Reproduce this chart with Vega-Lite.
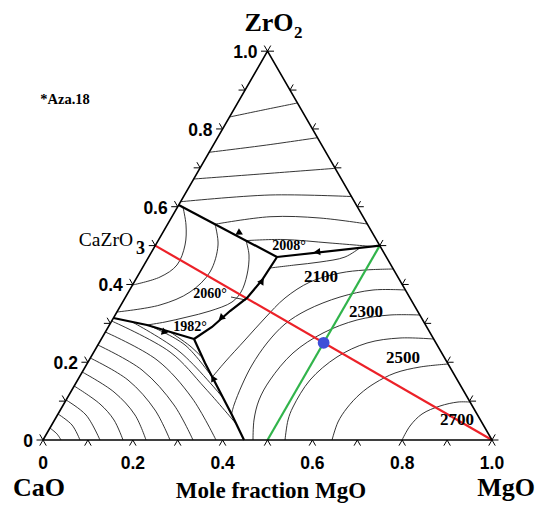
{
  "$schema": "https://vega.github.io/schema/vega-lite/v6.json",
  "width": 536,
  "height": 507,
  "autosize": "none",
  "padding": 0,
  "background": "white",
  "config": {"view": {"stroke": null}},
  "datasets": {
    "tri": [
      {"o": 0, "x": 0, "y": 0}, {"o": 1, "x": 1, "y": 0}, {"o": 2, "x": 0.5, "y": 0.866}, {"o": 3, "x": 0, "y": 0}
    ],
    "bnd": [
      {"g": "B1", "o": 0, "x": 0.3022, "y": 0.5234}, {"g": "B1", "o": 1, "x": 0.5212, "y": 0.4076},
      {"g": "B2", "o": 0, "x": 0.5212, "y": 0.4076}, {"g": "B2", "o": 1, "x": 0.75, "y": 0.433},
      {"g": "B3", "o": 0, "x": 0.5212, "y": 0.4076}, {"g": "B3", "o": 1, "x": 0.4878, "y": 0.3563}, {"g": "B3", "o": 2, "x": 0.4543, "y": 0.3163}, {"g": "B3", "o": 3, "x": 0.4165, "y": 0.2873}, {"g": "B3", "o": 4, "x": 0.3764, "y": 0.2517}, {"g": "B3", "o": 5, "x": 0.3363, "y": 0.2249},
      {"g": "B4", "o": 0, "x": 0.1569, "y": 0.2717}, {"g": "B4", "o": 1, "x": 0.2316, "y": 0.2561}, {"g": "B4", "o": 2, "x": 0.3363, "y": 0.2249},
      {"g": "B5", "o": 0, "x": 0.3363, "y": 0.2249}, {"g": "B5", "o": 1, "x": 0.3608, "y": 0.1715}, {"g": "B5", "o": 2, "x": 0.4209, "y": 0.0557}, {"g": "B5", "o": 3, "x": 0.4477, "y": 0}
    ],
    "iso": [
      {"g": "Z1", "o": 0, "x": 0.4153, "y": 0.7194}, {"g": "Z1", "o": 1, "x": 0.49, "y": 0.735}, {"g": "Z1", "o": 2, "x": 0.5666, "y": 0.7506},
      {"g": "Z2", "o": 0, "x": 0.37, "y": 0.6408}, {"g": "Z2", "o": 1, "x": 0.4982, "y": 0.657}, {"g": "Z2", "o": 2, "x": 0.6113, "y": 0.6733},
      {"g": "Z3", "o": 0, "x": 0.3356, "y": 0.5813}, {"g": "Z3", "o": 1, "x": 0.5056, "y": 0.594}, {"g": "Z3", "o": 2, "x": 0.6506, "y": 0.6051},
      {"g": "Z4", "o": 0, "x": 0.3064, "y": 0.5307}, {"g": "Z4", "o": 1, "x": 0.5056, "y": 0.5457}, {"g": "Z4", "o": 2, "x": 0.6869, "y": 0.5423},
      {"g": "Z5", "o": 0, "x": 0.3831, "y": 0.4806}, {"g": "Z5", "o": 1, "x": 0.5056, "y": 0.4973}, {"g": "Z5", "o": 2, "x": 0.6169, "y": 0.4944}, {"g": "Z5", "o": 3, "x": 0.7222, "y": 0.4811},
      {"g": "Z6", "o": 0, "x": 0.4521, "y": 0.4441}, {"g": "Z6", "o": 1, "x": 0.5345, "y": 0.4466}, {"g": "Z6", "o": 2, "x": 0.6392, "y": 0.4388}, {"g": "Z6", "o": 3, "x": 0.7327, "y": 0.4311},
      {"g": "A", "o": 0, "x": 0.3118, "y": 0.5183}, {"g": "A", "o": 1, "x": 0.3185, "y": 0.4788}, {"g": "A", "o": 2, "x": 0.3163, "y": 0.4343}, {"g": "A", "o": 3, "x": 0.2984, "y": 0.3898}, {"g": "A", "o": 4, "x": 0.2606, "y": 0.363}, {"g": "A", "o": 5, "x": 0.1993, "y": 0.3452},
      {"g": "B", "o": 0, "x": 0.3831, "y": 0.4806}, {"g": "B", "o": 1, "x": 0.3898, "y": 0.4343}, {"g": "B", "o": 2, "x": 0.3719, "y": 0.3742}, {"g": "B", "o": 3, "x": 0.3274, "y": 0.3296}, {"g": "B", "o": 4, "x": 0.2606, "y": 0.3007}, {"g": "B", "o": 5, "x": 0.1646, "y": 0.2851},
      {"g": "C", "o": 0, "x": 0.4521, "y": 0.4441}, {"g": "C", "o": 1, "x": 0.4588, "y": 0.412}, {"g": "C", "o": 2, "x": 0.4543, "y": 0.3675}, {"g": "C", "o": 3, "x": 0.441, "y": 0.3296}, {"g": "C", "o": 4, "x": 0.4209, "y": 0.3073}, {"g": "C", "o": 5, "x": 0.3719, "y": 0.2873}, {"g": "C", "o": 6, "x": 0.3207, "y": 0.2739}, {"g": "C", "o": 7, "x": 0.2717, "y": 0.2628}, {"g": "C", "o": 8, "x": 0.2316, "y": 0.2561},
      {"g": "L", "o": 0, "x": 0.4187, "y": 0.3185}, {"g": "L", "o": 1, "x": 0.4521, "y": 0.3118},
      {"g": "eta", "o": 0, "x": 0.5051, "y": 0.3831}, {"g": "eta", "o": 1, "x": 0.5612, "y": 0.3898}, {"g": "eta", "o": 2, "x": 0.6169, "y": 0.3964}, {"g": "eta", "o": 3, "x": 0.6726, "y": 0.4076}, {"g": "eta", "o": 4, "x": 0.706, "y": 0.4281},
      {"g": "zeta", "o": 0, "x": 0.7801, "y": 0.3809}, {"g": "zeta", "o": 1, "x": 0.7172, "y": 0.3786}, {"g": "zeta", "o": 2, "x": 0.6615, "y": 0.3719}, {"g": "zeta", "o": 3, "x": 0.5947, "y": 0.3519}, {"g": "zeta", "o": 4, "x": 0.539, "y": 0.3163}, {"g": "zeta", "o": 5, "x": 0.4944, "y": 0.2717}, {"g": "zeta", "o": 6, "x": 0.4499, "y": 0.2227}, {"g": "zeta", "o": 7, "x": 0.4053, "y": 0.1737}, {"g": "zeta", "o": 8, "x": 0.377, "y": 0.1403},
      {"g": "eps", "o": 0, "x": 0.8071, "y": 0.3341}, {"g": "eps", "o": 1, "x": 0.735, "y": 0.3341}, {"g": "eps", "o": 2, "x": 0.6615, "y": 0.3185}, {"g": "eps", "o": 3, "x": 0.588, "y": 0.2895}, {"g": "eps", "o": 4, "x": 0.539, "y": 0.2584}, {"g": "eps", "o": 5, "x": 0.4989, "y": 0.216}, {"g": "eps", "o": 6, "x": 0.4655, "y": 0.167}, {"g": "eps", "o": 7, "x": 0.4432, "y": 0.1225}, {"g": "eps", "o": 8, "x": 0.4254, "y": 0.078}, {"g": "eps", "o": 9, "x": 0.4198, "y": 0.0579},
      {"g": "delta", "o": 0, "x": 0.8393, "y": 0.2784}, {"g": "delta", "o": 1, "x": 0.7728, "y": 0.2784}, {"g": "delta", "o": 2, "x": 0.6993, "y": 0.2673}, {"g": "delta", "o": 3, "x": 0.6236, "y": 0.2383}, {"g": "delta", "o": 4, "x": 0.5568, "y": 0.1938}, {"g": "delta", "o": 5, "x": 0.5056, "y": 0.1336}, {"g": "delta", "o": 6, "x": 0.4811, "y": 0.0891}, {"g": "delta", "o": 7, "x": 0.4699, "y": 0.0445}, {"g": "delta", "o": 8, "x": 0.4677, "y": 0},
      {"g": "gamma", "o": 0, "x": 0.8701, "y": 0.2249}, {"g": "gamma", "o": 1, "x": 0.7951, "y": 0.2272}, {"g": "gamma", "o": 2, "x": 0.7216, "y": 0.216}, {"g": "gamma", "o": 3, "x": 0.6548, "y": 0.1849}, {"g": "gamma", "o": 4, "x": 0.5947, "y": 0.1336}, {"g": "gamma", "o": 5, "x": 0.5568, "y": 0.0735}, {"g": "gamma", "o": 6, "x": 0.5457, "y": 0.0445}, {"g": "gamma", "o": 7, "x": 0.539, "y": 0},
      {"g": "beta", "o": 0, "x": 0.9023, "y": 0.1693}, {"g": "beta", "o": 1, "x": 0.8397, "y": 0.1626}, {"g": "beta", "o": 2, "x": 0.784, "y": 0.1492}, {"g": "beta", "o": 3, "x": 0.7394, "y": 0.1269}, {"g": "beta", "o": 4, "x": 0.706, "y": 0.1024}, {"g": "beta", "o": 5, "x": 0.6771, "y": 0.0713}, {"g": "beta", "o": 6, "x": 0.657, "y": 0.0401}, {"g": "beta", "o": 7, "x": 0.6437, "y": 0},
      {"g": "alpha", "o": 0, "x": 0.9511, "y": 0.0846}, {"g": "alpha", "o": 1, "x": 0.9243, "y": 0.0846}, {"g": "alpha", "o": 2, "x": 0.8842, "y": 0.0757}, {"g": "alpha", "o": 3, "x": 0.8441, "y": 0.0579}, {"g": "alpha", "o": 4, "x": 0.8174, "y": 0.0312}, {"g": "alpha", "o": 5, "x": 0.7996, "y": 0},
      {"g": "k1", "o": 0, "x": 0.0154, "y": 0.0267}, {"g": "k1", "o": 1, "x": 0.0312, "y": 0.0134}, {"g": "k1", "o": 2, "x": 0.0401, "y": 0},
      {"g": "k2", "o": 0, "x": 0.0334, "y": 0.0579}, {"g": "k2", "o": 1, "x": 0.0646, "y": 0.0334}, {"g": "k2", "o": 2, "x": 0.0824, "y": 0},
      {"g": "k3", "o": 0, "x": 0.0514, "y": 0.0891}, {"g": "k3", "o": 1, "x": 0.0958, "y": 0.0557}, {"g": "k3", "o": 2, "x": 0.1269, "y": 0},
      {"g": "k4", "o": 0, "x": 0.0694, "y": 0.1203}, {"g": "k4", "o": 1, "x": 0.1269, "y": 0.0802}, {"g": "k4", "o": 2, "x": 0.1581, "y": 0.0445}, {"g": "k4", "o": 3, "x": 0.1782, "y": 0},
      {"g": "k5", "o": 0, "x": 0.0874, "y": 0.1514}, {"g": "k5", "o": 1, "x": 0.1581, "y": 0.1069}, {"g": "k5", "o": 2, "x": 0.2049, "y": 0.0557}, {"g": "k5", "o": 3, "x": 0.2294, "y": 0},
      {"g": "k6", "o": 0, "x": 0.1054, "y": 0.1826}, {"g": "k6", "o": 1, "x": 0.1893, "y": 0.1336}, {"g": "k6", "o": 2, "x": 0.2494, "y": 0.0668}, {"g": "k6", "o": 3, "x": 0.2829, "y": 0},
      {"g": "k7", "o": 0, "x": 0.1222, "y": 0.2116}, {"g": "k7", "o": 1, "x": 0.2205, "y": 0.1559}, {"g": "k7", "o": 2, "x": 0.2918, "y": 0.078}, {"g": "k7", "o": 3, "x": 0.3341, "y": 0},
      {"g": "k8", "o": 0, "x": 0.1389, "y": 0.2405}, {"g": "k8", "o": 1, "x": 0.2539, "y": 0.1782}, {"g": "k8", "o": 2, "x": 0.3319, "y": 0.0935}, {"g": "k8", "o": 3, "x": 0.3853, "y": 0},
      {"g": "k9", "o": 0, "x": 0.153, "y": 0.265}, {"g": "k9", "o": 1, "x": 0.2829, "y": 0.196}, {"g": "k9", "o": 2, "x": 0.3608, "y": 0.1158}, {"g": "k9", "o": 3, "x": 0.4306, "y": 0.0356},
      {"g": "k10", "o": 0, "x": 0.1982, "y": 0.2631}, {"g": "k10", "o": 1, "x": 0.3051, "y": 0.196}, {"g": "k10", "o": 2, "x": 0.3993, "y": 0.0958},
      {"g": "k11", "o": 0, "x": 0.2383, "y": 0.2541}, {"g": "k11", "o": 1, "x": 0.3163, "y": 0.2116}, {"g": "k11", "o": 2, "x": 0.3781, "y": 0.1381},
      {"g": "k12", "o": 0, "x": 0.2829, "y": 0.2408}, {"g": "k12", "o": 1, "x": 0.3274, "y": 0.2094}, {"g": "k12", "o": 2, "x": 0.3557, "y": 0.1826}
    ],
    "joins": [
      {"j": "CaZrO3-MgO", "o": 0, "x": 0.25, "y": 0.433}, {"j": "CaZrO3-MgO", "o": 1, "x": 1, "y": 0},
      {"j": "MgO 0.5", "o": 0, "x": 0.5, "y": 0}, {"j": "MgO 0.5", "o": 1, "x": 0.75, "y": 0.433}
    ],
    "pt": [{"x": 0.625, "y": 0.2165}],
    "arrows": [
      {"x": 0.4388, "y": 0.461, "a": 28}, {"x": 0.6103, "y": 0.4187, "a": 174}, {"x": 0.4878, "y": 0.3541, "a": 303},
      {"x": 0.3964, "y": 0.2717, "a": 138}, {"x": 0.2717, "y": 0.2405, "a": 17}, {"x": 0.3786, "y": 0.1381, "a": 243}
    ],
    "tickB": [
      {"x": 0, "y": 0}, {"x": 0.1, "y": 0}, {"x": 0.2, "y": 0}, {"x": 0.3, "y": 0}, {"x": 0.4, "y": 0}, {"x": 0.5, "y": 0},
      {"x": 0.6, "y": 0}, {"x": 0.7, "y": 0}, {"x": 0.8, "y": 0}, {"x": 0.9, "y": 0}, {"x": 1, "y": 0}
    ],
    "tickL": [
      {"x": 0, "y": 0}, {"x": 0.05, "y": 0.0866}, {"x": 0.1, "y": 0.1732}, {"x": 0.15, "y": 0.2598}, {"x": 0.2, "y": 0.3464}, {"x": 0.25, "y": 0.433},
      {"x": 0.3, "y": 0.5196}, {"x": 0.35, "y": 0.6062}, {"x": 0.4, "y": 0.6928}, {"x": 0.45, "y": 0.7794}, {"x": 0.5, "y": 0.866}
    ],
    "tickR": [
      {"x": 1, "y": 0}, {"x": 0.95, "y": 0.0866}, {"x": 0.9, "y": 0.1732}, {"x": 0.85, "y": 0.2598}, {"x": 0.8, "y": 0.3464}, {"x": 0.75, "y": 0.433},
      {"x": 0.7, "y": 0.5196}, {"x": 0.65, "y": 0.6062}, {"x": 0.6, "y": 0.6928}, {"x": 0.55, "y": 0.7794}, {"x": 0.5, "y": 0.866}
    ],
    "labB": [
      {"t": "0", "x": 0, "y": 0}, {"t": "0.2", "x": 0.2, "y": 0}, {"t": "0.4", "x": 0.4, "y": 0},
      {"t": "0.6", "x": 0.6, "y": 0}, {"t": "0.8", "x": 0.8, "y": 0}, {"t": "1.0", "x": 1, "y": 0}
    ],
    "labL": [
      {"t": "0", "x": 0, "y": 0}, {"t": "0.2", "x": 0.1, "y": 0.1732}, {"t": "0.4", "x": 0.2, "y": 0.3464},
      {"t": "0.6", "x": 0.3, "y": 0.5196}, {"t": "0.8", "x": 0.4, "y": 0.6928}, {"t": "1.0", "x": 0.5, "y": 0.866}
    ],
    "corner": [
      {"t": "CaO", "x": -0.0089, "y": -0.1069}, {"t": "MgO", "x": 1.0312, "y": -0.1069}, {"t": "ZrO", "x": 0.5033, "y": 0.9287}
    ],
    "sub": [
      {"t": "2", "x": 0.559, "y": 0.9065}
    ],
    "cz": [{"t": "CaZrO", "x": 0.2004, "y": 0.4454}],
    "czsub": [{"t": "3", "x": 0.2071, "y": 0.4254}],
    "axt": [{"t": "Mole fraction MgO", "x": 0.5078, "y": -0.1136}],
    "note": [{"t": "*Aza.18", "x": 0.049, "y": 0.7572}],
    "tsmall": [
      {"t": "2008°", "x": 0.5479, "y": 0.4321}, {"t": "2060°", "x": 0.3719, "y": 0.3252}, {"t": "1982°", "x": 0.3274, "y": 0.2517}
    ],
    "tbig": [
      {"t": "2100", "x": 0.6192, "y": 0.363}, {"t": "2300", "x": 0.7194, "y": 0.2851}, {"t": "2500", "x": 0.8018, "y": 0.1826}, {"t": "2700", "x": 0.9221, "y": 0.0445}
    ]
  },
  "encoding": {
    "x": {"field": "x", "type": "quantitative", "scale": {"domain": [-0.0958, 1.098], "nice": false, "zero": false}, "axis": null},
    "y": {"field": "y", "type": "quantitative", "scale": {"domain": [-0.1492, 0.98], "nice": false, "zero": false}, "axis": null}
  },
  "layer": [
    {
      "data": {"name": "iso"},
      "mark": {"type": "line", "stroke": "#1e1e1e", "strokeWidth": 0.9, "interpolate": "catmull-rom"},
      "encoding": {"detail": {"field": "g"}, "order": {"field": "o", "type": "quantitative"}}
    },
    {
      "data": {"name": "joins"},
      "mark": {"type": "line", "strokeWidth": 2.2},
      "encoding": {
        "detail": {"field": "j"},
        "order": {"field": "o", "type": "quantitative"},
        "color": {"field": "j", "type": "nominal", "scale": {"domain": ["CaZrO3-MgO", "MgO 0.5"], "range": ["#ec2128", "#31b44b"]}, "legend": null}
      }
    },
    {
      "data": {"name": "bnd"},
      "mark": {"type": "line", "stroke": "black", "strokeWidth": 2.2},
      "encoding": {"detail": {"field": "g"}, "order": {"field": "o", "type": "quantitative"}}
    },
    {
      "data": {"name": "tri"},
      "mark": {"type": "line", "stroke": "black", "strokeWidth": 1.6},
      "encoding": {"order": {"field": "o", "type": "quantitative"}}
    },
    {
      "data": {"name": "arrows"},
      "mark": {"type": "point", "shape": "triangle-right", "filled": true, "color": "black", "size": 55, "opacity": 1},
      "encoding": {"angle": {"field": "a", "type": "quantitative", "scale": null}}
    },
    {
      "data": {"name": "pt"},
      "mark": {"type": "circle", "color": "#3f4fd8", "size": 140, "opacity": 1}
    },
    {
      "data": {"name": "tickB"},
      "mark": {"type": "point", "shape": "M0,0L-0.5,0.866M0,0L0.5,0.866", "filled": false, "color": "black", "strokeWidth": 1, "size": 169, "opacity": 1}
    },
    {
      "data": {"name": "tickL"},
      "mark": {"type": "point", "shape": "M0,0L-1,0M0,0L-0.5,-0.866", "filled": false, "color": "black", "strokeWidth": 1, "size": 169, "opacity": 1}
    },
    {
      "data": {"name": "tickR"},
      "mark": {"type": "point", "shape": "M0,0L1,0M0,0L0.5,-0.866", "filled": false, "color": "black", "strokeWidth": 1, "size": 169, "opacity": 1}
    },
    {
      "data": {"name": "labB"},
      "mark": {"type": "text", "font": "Liberation Sans", "fontWeight": "bold", "fontSize": 17.5, "dy": 24, "align": "center", "baseline": "middle"},
      "encoding": {"text": {"field": "t"}}
    },
    {
      "data": {"name": "labL"},
      "mark": {"type": "text", "font": "Liberation Sans", "fontWeight": "bold", "fontSize": 17.5, "dx": -10, "dy": 2, "align": "right", "baseline": "middle"},
      "encoding": {"text": {"field": "t"}}
    },
    {
      "data": {"name": "corner"},
      "mark": {"type": "text", "font": "Liberation Serif", "fontWeight": "bold", "fontSize": 26, "align": "center", "baseline": "middle"},
      "encoding": {"text": {"field": "t"}}
    },
    {
      "data": {"name": "sub"},
      "mark": {"type": "text", "font": "Liberation Serif", "fontWeight": "bold", "fontSize": 17, "align": "left", "baseline": "middle"},
      "encoding": {"text": {"field": "t"}}
    },
    {
      "data": {"name": "cz"},
      "mark": {"type": "text", "font": "Liberation Serif", "fontSize": 19.5, "align": "right", "baseline": "middle"},
      "encoding": {"text": {"field": "t"}}
    },
    {
      "data": {"name": "czsub"},
      "mark": {"type": "text", "font": "Liberation Serif", "fontWeight": "bold", "fontSize": 18, "align": "left", "baseline": "middle"},
      "encoding": {"text": {"field": "t"}}
    },
    {
      "data": {"name": "axt"},
      "mark": {"type": "text", "font": "Liberation Serif", "fontWeight": "bold", "fontSize": 23, "align": "center", "baseline": "middle"},
      "encoding": {"text": {"field": "t"}}
    },
    {
      "data": {"name": "note"},
      "mark": {"type": "text", "font": "Liberation Serif", "fontWeight": "bold", "fontSize": 14.5, "align": "center", "baseline": "middle"},
      "encoding": {"text": {"field": "t"}}
    },
    {
      "data": {"name": "tsmall"},
      "mark": {"type": "text", "font": "Liberation Serif", "fontWeight": "bold", "fontSize": 14, "align": "center", "baseline": "middle"},
      "encoding": {"text": {"field": "t"}}
    },
    {
      "data": {"name": "tbig"},
      "mark": {"type": "text", "font": "Liberation Serif", "fontWeight": "bold", "fontSize": 17, "align": "center", "baseline": "middle"},
      "encoding": {"text": {"field": "t"}}
    }
  ]
}
